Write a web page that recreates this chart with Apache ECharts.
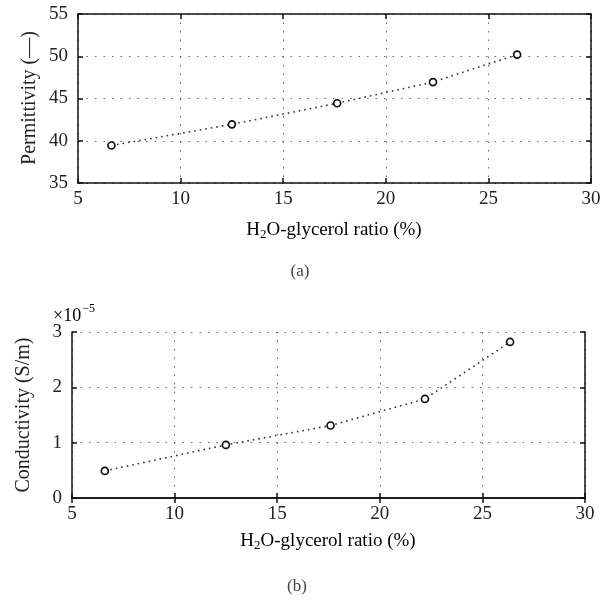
<!DOCTYPE html>
<html>
<head>
<meta charset="utf-8">
<script src="https://cdn.jsdelivr.net/npm/echarts@6/dist/echarts.min.js"></script>
<style>
html,body{margin:0;padding:0;background:#fff;}
#chart{width:616px;height:604px;}
</style>
</head>
<body>
<div id="chart"></div>
<script>
// Panel (a): permittivity vs H2O-glycerol ratio
const ratioA = [6.63, 12.5, 17.63, 22.3, 26.4];
const permittivity = [39.44, 41.94, 44.44, 46.94, 50.2];
// Panel (b): conductivity (in units of 1e-5 S/m) vs H2O-glycerol ratio
const ratioB = [6.6, 12.5, 17.6, 22.2, 26.35];
const conductivity = [0.49, 0.96, 1.31, 1.79, 2.82];

const FONT = 'Liberation Serif';
const TXT = '#222';

const chart = echarts.init(document.getElementById('chart'), null, {renderer: 'canvas'});

function xAxisPair(gridIndex) {
  return [
    {
      type: 'value', gridIndex: gridIndex, position: 'bottom', min: 5, max: 30, interval: 5,
      axisLine: {show: true, lineStyle: {color: '#111', width: 1.5}},
      axisTick: {show: true, inside: true, length: 5, lineStyle: {color: '#111', width: 1.5}},
      axisLabel: {show: true, fontFamily: FONT, fontSize: 19, color: TXT, margin: 7},
      splitLine: {show: true, lineStyle: {color: '#666', width: 1, type: [1.5, 7]}}
    },
    {
      type: 'value', gridIndex: gridIndex, position: 'top', min: 5, max: 30, interval: 5,
      axisLine: {show: true, lineStyle: {color: '#111', width: 1.5}},
      axisTick: {show: true, inside: true, length: 5, lineStyle: {color: '#111', width: 1.5}},
      axisLabel: {show: false},
      splitLine: {show: false}
    }
  ];
}
function yAxisPair(gridIndex, min, max, interval) {
  return [
    {
      type: 'value', gridIndex: gridIndex, position: 'left', min: min, max: max, interval: interval,
      axisLine: {show: true, lineStyle: {color: '#111', width: 1.5}},
      axisTick: {show: true, inside: true, length: 5, lineStyle: {color: '#111', width: 1.5}},
      axisLabel: {show: true, fontFamily: FONT, fontSize: 19, color: TXT, margin: 10},
      splitLine: {show: true, lineStyle: {color: '#666', width: 1, type: [1.5, 7]}}
    },
    {
      type: 'value', gridIndex: gridIndex, position: 'right', min: min, max: max, interval: interval,
      axisLine: {show: true, lineStyle: {color: '#111', width: 1.5}},
      axisTick: {show: true, inside: true, length: 5, lineStyle: {color: '#111', width: 1.5}},
      axisLabel: {show: false},
      splitLine: {show: false}
    }
  ];
}

function zip(a, b) { return a.map((v, i) => [v, b[i]]); }

const seriesStyle = {
  type: 'line',
  symbol: 'circle',
  symbolSize: 7,
  showSymbol: true,
  itemStyle: {color: '#fff', borderColor: '#111', borderWidth: 1.7},
  lineStyle: {color: '#333', width: 1.6, type: [1.6, 4]},
  animation: false
};

const nameRich = {
  n: {fontFamily: FONT, fontSize: 19, color: TXT},
  s: {fontFamily: FONT, fontSize: 13, color: TXT, padding: [10, 0, 0, 0]}
};

const option = {
  backgroundColor: '#fff',
  animation: false,
  grid: [
    {left: 78, top: 14, width: 513, height: 169},
    {left: 72, top: 332, width: 513, height: 166}
  ],
  xAxis: [].concat(xAxisPair(0), xAxisPair(1)),
  yAxis: [].concat(yAxisPair(0, 35, 55, 5), yAxisPair(1, 0, 3, 1)),
  series: [
    Object.assign({}, seriesStyle, {xAxisIndex: 0, yAxisIndex: 0, data: zip(ratioA, permittivity)}),
    Object.assign({}, seriesStyle, {xAxisIndex: 2, yAxisIndex: 2, data: zip(ratioB, conductivity)})
  ],
  graphic: [
    {type: 'text', x: 334, y: 230, style: {text: '{n|H}{s|2}{n|O-glycerol ratio (%)}', rich: nameRich, align: 'center', verticalAlign: 'middle'}},
    {type: 'text', x: 300, y: 272, style: {text: '(a)', fontFamily: FONT, fontSize: 17, fill: '#444', align: 'center', verticalAlign: 'middle'}},
    {type: 'text', x: 30, y: 98, rotation: Math.PI / 2, style: {text: 'Permittivity (—)', fontFamily: FONT, fontSize: 20, fill: TXT, align: 'center', verticalAlign: 'middle'}},
    {type: 'text', x: 328, y: 541, style: {text: '{n|H}{s|2}{n|O-glycerol ratio (%)}', rich: nameRich, align: 'center', verticalAlign: 'middle'}},
    {type: 'text', x: 297, y: 587, style: {text: '(b)', fontFamily: FONT, fontSize: 17, fill: '#444', align: 'center', verticalAlign: 'middle'}},
    {type: 'text', x: 24, y: 415, rotation: Math.PI / 2, style: {text: 'Conductivity (S/m)', fontFamily: FONT, fontSize: 20, fill: TXT, align: 'center', verticalAlign: 'middle'}},
    {type: 'text', x: 53, y: 313, style: {text: '{n|×10}{e|−5}', rich: {n: {fontFamily: FONT, fontSize: 18, color: TXT, padding: [6, 0, 0, 0]}, e: {fontFamily: FONT, fontSize: 12, color: TXT, padding: [0, 0, 8, 1]}}, align: 'left', verticalAlign: 'middle'}}
  ]
};
chart.setOption(option);
</script>
</body>
</html>
